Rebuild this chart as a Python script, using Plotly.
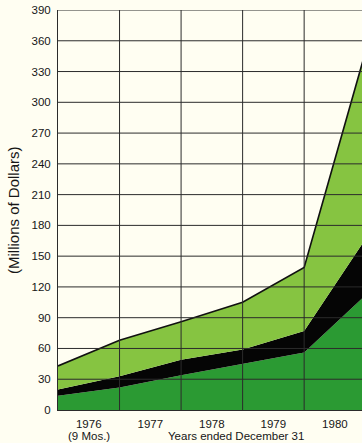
import plotly.graph_objects as go

# Period boundaries: start of the 9-month 1976 period, then each December 31
period_pos = [0, 1, 2, 3, 4, 5]
year_labels = ["1976", "1977", "1978", "1979", "1980"]
year_label_pos = [0.5, 1.5, 2.5, 3.5, 4.5]

# Stacked components (millions of dollars), bottom to top
base_series = [14, 22, 34, 45, 56, 112]
middle_series = [6, 11, 15, 14, 21, 55]
upper_series = [23, 35, 37, 46, 62, 183]

y_ticks = [0, 30, 60, 90, 120, 150, 180, 210, 240, 270, 300, 330, 360, 390]

BG = "#fffef2"
GRID = "#2b2b2b"
FONT = dict(family="Liberation Sans, Arial, sans-serif", size=11.5, color="#161616")

fig = go.Figure()
fig.add_trace(go.Scatter(
    x=period_pos, y=base_series, stackgroup="s", mode="lines",
    line=dict(width=0, color="#2b9a33"), fillcolor="#2b9a33", showlegend=False,
))
fig.add_trace(go.Scatter(
    x=period_pos, y=middle_series, stackgroup="s", mode="lines",
    line=dict(width=0, color="#050505"), fillcolor="#050505", showlegend=False,
))
fig.add_trace(go.Scatter(
    x=period_pos, y=upper_series, stackgroup="s", mode="lines",
    line=dict(width=1.6, color="#111111"), fillcolor="#86c441", showlegend=False,
))

# Grid drawn over the filled areas
shapes = []
for v in y_ticks[1:]:
    shapes.append(dict(type="line", xref="x domain", yref="y", x0=0, x1=1, y0=v, y1=v,
                       line=dict(color=GRID, width=1), layer="above"))
for p in period_pos[1:-1]:
    shapes.append(dict(type="line", xref="x", yref="y domain", x0=p, x1=p, y0=0, y1=1,
                       line=dict(color=GRID, width=1), layer="above"))

fig.update_layout(
    width=362, height=443,
    margin=dict(l=58, r=0, t=10, b=33),
    paper_bgcolor=BG, plot_bgcolor=BG,
    font=FONT,
    shapes=shapes,
    xaxis=dict(
        range=[0, 4.94], tickmode="array", tickvals=year_label_pos, ticktext=year_labels,
        showgrid=False, zeroline=False, showline=True, linecolor=GRID, linewidth=1,
        ticks="", ticklabelstandoff=3, fixedrange=True,
    ),
    yaxis=dict(
        range=[0, 390], tickmode="array", tickvals=y_ticks,
        showgrid=False, zeroline=False, showline=True, linecolor=GRID, linewidth=1,
        ticks="", ticklabelstandoff=4, fixedrange=True,
    ),
    annotations=[
        dict(text="(9 Mos.)", xref="x", yref="paper", x=0.5, y=0, yshift=-26,
             showarrow=False, xanchor="center", yanchor="middle", font=FONT),
        dict(text="Years ended December 31", xref="x", yref="paper", x=2.9, y=0, yshift=-26,
             showarrow=False, xanchor="center", yanchor="middle", font=FONT),
        dict(text="(Millions of Dollars)", xref="paper", yref="paper", x=0, y=0.5,
             xshift=-45, textangle=-90, showarrow=False, xanchor="center", yanchor="middle",
             font=dict(family=FONT["family"], size=15, color="#161616")),
    ],
)

fig.write_html("out.html")
